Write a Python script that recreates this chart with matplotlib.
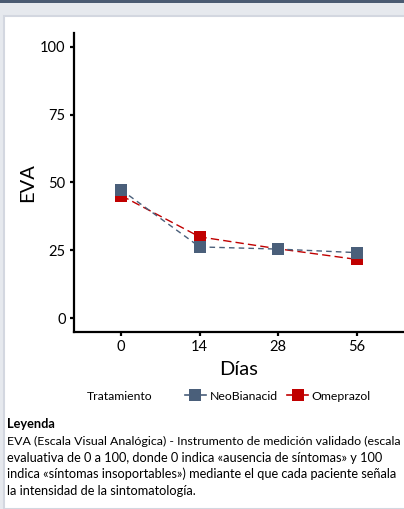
import matplotlib.pyplot as plt
from matplotlib.patches import Rectangle
from matplotlib.lines import Line2D

dias = ['0', '14', '28', '56']
neobianacid = [47.3, 26.3, 25.5, 24.2]
omeprazol = [45.2, 30.0, 25.6, 21.7]
yticks = [0, 25, 50, 75, 100]

azul = '#4a5f7a'
rojo = '#c00000'
leyenda = [
    'EVA (Escala Visual Analógica) - Instrumento de medición validado (escala',
    'evaluativa de 0 a 100, donde 0 indica «ausencia de síntomas» y 100',
    'indica «síntomas insoportables») mediante el que cada paciente señala',
    'la intensidad de la sintomatología.',
]

plt.rcParams['font.family'] = ['Lato', 'DejaVu Sans']

W, H = 404, 509
fig = plt.figure(figsize=(W / 100, H / 100), dpi=100, facecolor='#e6e9ee')

# frame decorations
fig.patches.append(Rectangle((0, 1 - 3 / H), 1, 3 / H, transform=fig.transFigure,
                             facecolor='#4b5b72', edgecolor='none', zorder=0))
fig.patches.append(Rectangle((4 / W, 0), 1, 1 - 16 / H, transform=fig.transFigure,
                             facecolor='white', edgecolor='#d3d7e0', linewidth=1.5, zorder=0))

ax = fig.add_axes([74 / W, 1 - 332 / H, (W - 74) / W, (332 - 33) / H])
ax.set_zorder(2)
ax.patch.set_alpha(0)
x = range(len(dias))
ax.plot(x, omeprazol, color=rojo, linestyle=(0, (6, 3)), linewidth=1.0,
        marker='s', markersize=8, markeredgewidth=0, zorder=3)
ax.plot(x, neobianacid, color=azul, linestyle=(0, (4, 3)), linewidth=1.0,
        marker='s', markersize=8, markeredgewidth=0, zorder=4)

ax.set_xlim(-0.6, 3.6)
ax.set_ylim(-5, 105)
ax.set_xticks(list(x))
ax.set_xticklabels(dias)
ax.set_yticks(yticks)
for s in ['top', 'right']:
    ax.spines[s].set_visible(False)
for s in ['left', 'bottom']:
    ax.spines[s].set_linewidth(1.6)
ax.tick_params(axis='both', length=3, width=1.6, labelsize=10.5, pad=3, colors='black')
ax.set_xlabel('Días', fontsize=14.5, labelpad=5)
ax.set_ylabel('EVA', fontsize=14.5, labelpad=3)

# legend
fig.text(120 / W, 1 - 396 / H, 'Tratamiento', fontsize=8.8, ha='center', va='center')
handles = [
    Line2D([], [], color=azul, marker='s', markersize=8, linewidth=1.2, markeredgewidth=0),
    Line2D([], [], color=rojo, marker='s', markersize=8, linewidth=1.2, markeredgewidth=0),
]
fig.legend(handles, ['NeoBianacid', 'Omeprazol'], ncol=2, frameon=False,
           loc='center left', bbox_to_anchor=(174 / W, 1 - 396 / H),
           fontsize=8.8, handlelength=1.7, handletextpad=0.3, columnspacing=0.8)

fig.text(7 / W, 1 - 424 / H, 'Leyenda', fontsize=9.2, fontweight='bold', va='center')
tamanos = [8.9, 9.2, 9.2, 9.2]
for i, linea in enumerate(leyenda):
    fig.text(7 / W, 1 - (441 + 16.6 * i) / H, linea, fontsize=tamanos[i], va='center')

fig.savefig('out.png', dpi=100, facecolor=fig.get_facecolor())
